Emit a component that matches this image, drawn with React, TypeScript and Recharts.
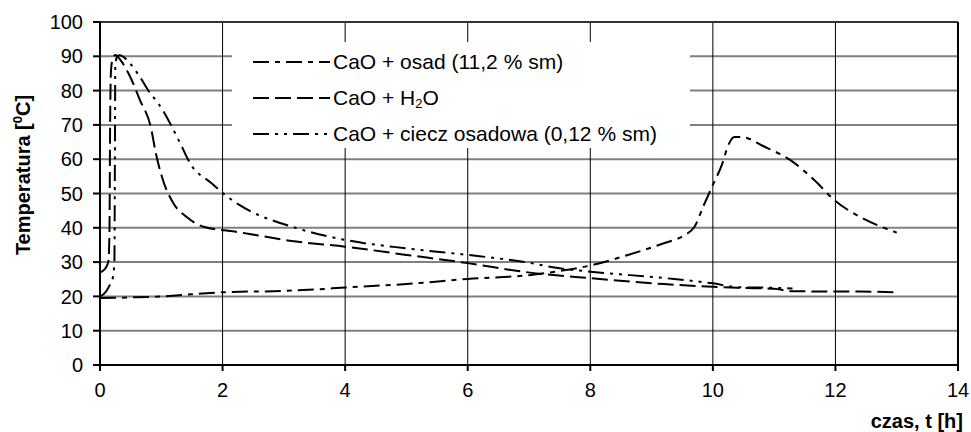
import React from "react";
import {
  LineChart,
  Line,
  XAxis,
  YAxis,
  CartesianGrid,
  ReferenceLine,
} from "recharts";

// czas [h] / temperatura [C] for each mix
const OSAD_T = [0, 0.5, 1, 1.5, 2, 3, 3.5, 4, 5, 6, 7, 7.5, 8, 8.6, 9.2, 9.5, 9.7, 9.85, 10, 10.15, 10.25, 10.35, 10.5, 10.8, 11.3, 11.65, 12, 12.4, 13];
const OSAD_C = [19.5, 19.7, 20, 20.6, 21.2, 21.6, 22, 22.6, 23.6, 25.1, 26.2, 27.4, 29, 32, 35.5, 37.5, 40.3, 46.5, 52.5, 58.5, 64, 66.5, 66.4, 64, 59.3, 54, 47.8, 43.2, 38.6];

const H2O_T = [0, 0.05, 0.1, 0.14, 0.155, 0.165, 0.18, 0.21, 0.25, 0.35, 0.49, 0.65, 0.84, 0.9, 1.01, 1.2, 1.41, 1.69, 2.2, 3.2, 4, 5, 6, 6.9, 8, 9.2, 10, 10.4, 11, 11.3, 12.4, 13];
const H2O_C = [27, 27.5, 28.5, 30.5, 40, 70, 86, 89.5, 90.4, 88.5, 84.1, 77.3, 68.5, 62.7, 54.9, 47.1, 43.2, 40.3, 38.9, 36, 34.5, 32.1, 29.7, 27.2, 25.3, 23.6, 22.8, 22.5, 22.2, 21.5, 21.4, 21.2];

const CIECZ_T = [0, 0.08, 0.15, 0.21, 0.235, 0.243, 0.25, 0.28, 0.32, 0.49, 0.65, 0.82, 0.95, 1.31, 1.47, 1.82, 2.01, 2.28, 3.21, 4.02, 5, 6, 6.9, 7.5, 8, 9.24, 10, 10.4, 11, 11.3];
const CIECZ_C = [20, 21, 23, 25.5, 30, 60, 87, 90, 90.3, 87.9, 84, 79.2, 76.3, 64.6, 58.8, 53, 50, 46.6, 39.9, 36.4, 34, 32.1, 30.1, 28.2, 27.2, 25.3, 23.8, 22.7, 22.5, 22.3];

const X_TICKS = [0, 2, 4, 6, 8, 10, 12, 14];
const Y_TICKS = [0, 10, 20, 30, 40, 50, 60, 70, 80, 90, 100];

const toPoints = (ts: number[], cs: number[]) => ts.map((t, i) => ({ t, c: cs[i] }));

const SERIES = [
  { key: "osad", data: toPoints(OSAD_T, OSAD_C), dash: "16 6 5 6" },
  { key: "h2o", data: toPoints(H2O_T, H2O_C), dash: "16 6" },
  { key: "ciecz", data: toPoints(CIECZ_T, CIECZ_C), dash: "16 6 3 6 3 6" },
];

const FONT = "'Liberation Sans', Arial, sans-serif";

function LegendRow({ dash, top, children }: { dash: string; top: number; children: React.ReactNode }) {
  return (
    <div style={{ position: "absolute", left: 0, top, height: 30, display: "flex", alignItems: "center" }}>
      <svg width={100} height={30} style={{ display: "block" }}>
        <line x1={21} y1={15} x2={98} y2={15} stroke="#000" strokeWidth={2} strokeDasharray={dash} />
      </svg>
      <span style={{ fontSize: 21, whiteSpace: "nowrap", marginLeft: 1 }}>{children}</span>
    </div>
  );
}

export default function App() {
  return (
    <div style={{ position: "absolute", left: 0, top: 0, width: 971, height: 432, background: "#fff", fontFamily: FONT }}>
      <LineChart width={971} height={432} margin={{ top: 22, right: 13, bottom: 37, left: 0 }}>
        <CartesianGrid vertical={false} stroke="#808080" strokeWidth={2} />
        <CartesianGrid horizontal={false} stroke="#000" strokeWidth={1} />
        <XAxis
          type="number"
          dataKey="t"
          domain={[0, 14]}
          ticks={X_TICKS}
          height={30}
          tickSize={6}
          tickMargin={12}
          axisLine={{ stroke: "#000", strokeWidth: 2 }}
          tickLine={{ stroke: "#000", strokeWidth: 2 }}
          tick={{ fill: "#000", fontSize: 20, fontFamily: FONT }}
        />
        <YAxis
          type="number"
          domain={[0, 100]}
          ticks={Y_TICKS}
          width={100}
          tickSize={7}
          tickMargin={10}
          axisLine={{ stroke: "#000", strokeWidth: 2 }}
          tickLine={{ stroke: "#000", strokeWidth: 2 }}
          tick={{ fill: "#000", fontSize: 20, fontFamily: FONT }}
        />
        <ReferenceLine y={100} stroke="#333" strokeWidth={2} />
        <ReferenceLine x={14} stroke="#000" strokeWidth={2} />
        {SERIES.map((s) => (
          <Line
            key={s.key}
            data={s.data}
            dataKey="c"
            type="monotone"
            stroke="#000"
            strokeWidth={2}
            strokeDasharray={s.dash}
            dot={false}
            isAnimationActive={false}
          />
        ))}
      </LineChart>

      <svg width={971} height={432} style={{ position: "absolute", left: 0, top: 0, pointerEvents: "none" }}>
        <text
          transform="translate(30,175) rotate(-90)"
          textAnchor="middle"
          fontSize={20}
          fontWeight="bold"
          fontFamily={FONT}
        >
          Temperatura [<tspan fontSize={13} dy={-8}>0</tspan>
          <tspan dy={8}>C]</tspan>
        </text>
        <text x={963} y={428} textAnchor="end" fontSize={20} fontWeight="bold" fontFamily={FONT}>
          czas, t [h]
        </text>
      </svg>

      <div style={{ position: "absolute", left: 232, top: 42, width: 458, height: 106, background: "#fff" }}>
        <LegendRow dash={SERIES[0].dash} top={5}>CaO + osad (11,2 % sm)</LegendRow>
        <LegendRow dash={SERIES[1].dash} top={41}>
          CaO + H<sub style={{ fontSize: 13, verticalAlign: "-3px" }}>2</sub>O
        </LegendRow>
        <LegendRow dash={SERIES[2].dash} top={77}>CaO + ciecz osadowa (0,12 % sm)</LegendRow>
      </div>
    </div>
  );
}
